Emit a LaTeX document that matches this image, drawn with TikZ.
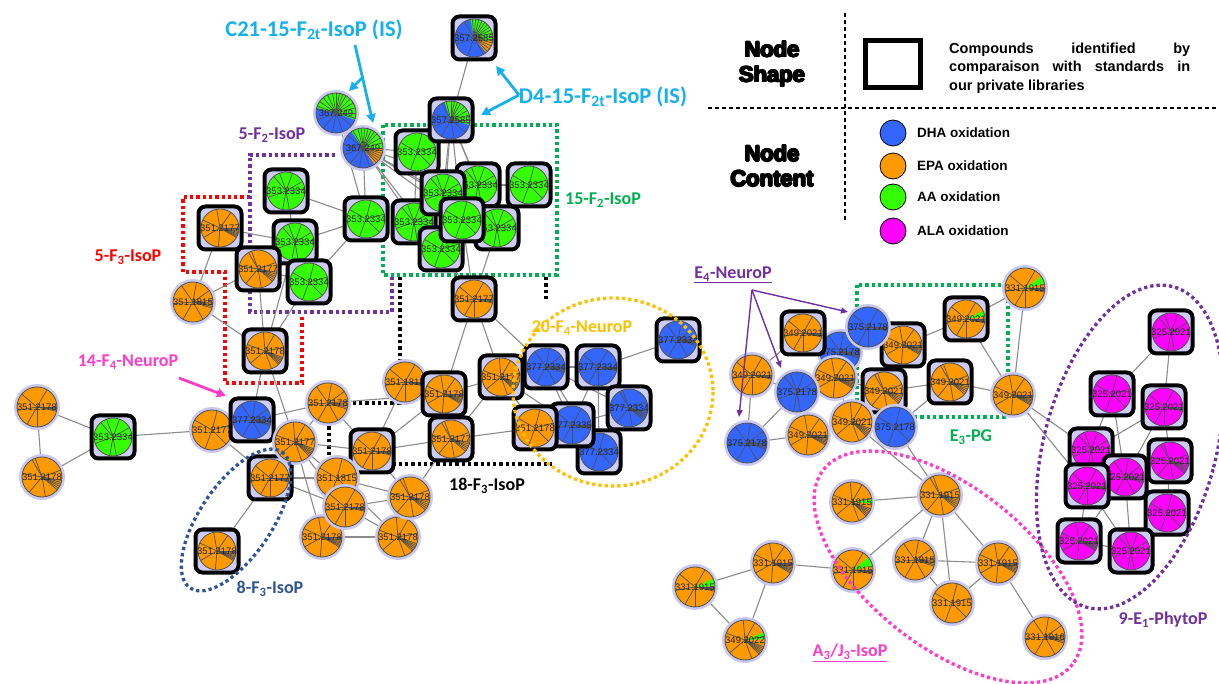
\documentclass[tikz,border=0pt]{standalone}
\usepackage{fontspec}
\setmainfont{Liberation Sans}
\newfontfamily\calib{Carlito}
\usetikzlibrary{arrows.meta,calc}
\definecolor{dha}{HTML}{3366FF}
\definecolor{epa}{HTML}{FF9900}
\definecolor{aa}{HTML}{33FF00}
\definecolor{ala}{HTML}{FF00FF}
\definecolor{boxfill}{HTML}{CCCCF5}
\definecolor{halo}{HTML}{C8C8F0}
\definecolor{cyanl}{HTML}{16B0EE}
\definecolor{purp}{HTML}{7030A0}
\definecolor{grn}{HTML}{00B050}
\definecolor{pinkl}{HTML}{FF3CC8}
\definecolor{gold}{HTML}{FFC000}
\definecolor{dblue}{HTML}{2F5597}
\definecolor{edgec}{HTML}{8C8C8C}
\definecolor{slicec}{HTML}{505050}
\pgfdeclarelayer{bg}\pgfdeclarelayer{edges}
\pgfsetlayers{bg,edges,main}
\tikzset{
 piec/.style={circle, inner sep=0pt, outer sep=0pt, minimum size=40pt},
 pieb/.style={circle, inner sep=0pt, outer sep=0pt, minimum size=38pt},
 boxn/.style={draw=black, line width=4pt, fill=boxfill, rounded corners=7pt, minimum size=43pt, inner sep=0pt},
 slice/.style={draw=slicec, line width=0.7pt},
 rim/.style={draw=slicec, line width=0.8pt},
 lbl/.style={font=\fontsize{9.5}{10}\selectfont, text=black!85, inner sep=0pt},
 lnk/.style={draw=edgec, line width=1.1pt},
 reg/.style={line width=3.3pt, dash pattern=on 3.3pt off 3pt},
 ann/.style={font=\calib\bfseries\fontsize{18}{20}\selectfont, inner sep=0pt},
 annbig/.style={font=\calib\bfseries\fontsize{22.5}{24}\selectfont, inner sep=0pt},
 carr/.style={draw=cyanl, line width=2.8pt, -{Triangle[length=9pt,width=9pt]}},
 parr/.style={draw=purp, line width=1.4pt, -{Triangle[length=7pt,width=6pt]}},
 marr/.style={draw=pinkl, line width=2.8pt, -{Triangle[length=9pt,width=9pt]}},
 legdash/.style={line width=1.3pt, dash pattern=on 4pt off 3pt},
 legtxt/.style={font=\bfseries\fontsize{13.5}{16}\selectfont, anchor=west, inner sep=0pt},
 legdot/.style={circle, draw=black, line width=0.8pt, minimum size=26pt, inner sep=0pt},
 heavyt/.style={font=\bfseries\fontsize{22}{25}\selectfont, align=center, inner sep=0pt}
}
\def\sA{-100,-55,95,150,205,0,5,10,14,18,22,26,30}
\def\sB{-80,-35,60,120,175,235,-5,3,8,13,18}
\def\sC{-120,-20,80,130,190,250,10,16,22,28,34,40}
\def\sD{-75,-15,45,110,210}
\def\sE{-95,-60,-10,70,140,200,20,25,30,35,40,45}
\def\sF{-110,-70,-30,-5,80,100,160,230}
\def\sG{-60,0,3,6,9,12,90,120,170,220}
\newcommand\wdg[5]{\fill[#4] (#1.center) -- +(#2:#5) arc[start angle=#2, end angle=#3, radius=#5] -- cycle;}
\newcommand\cn[7]{%
  \fill[halo] (#2,#3) circle (23);
  \node[piec, fill=#4] (#1) at (#2,#3) {};
  #7
  \edef\myslices{#6}\foreach \a in \myslices {\draw[slice] (#1.center) -- +(\a:20);}
  \draw[rim] (#1.center) circle (20);
  \node[lbl] at (#1.center) {#5};
}
\newcommand\bn[7]{%
  \node[boxn] (#1box) at (#2,#3) {};
  \node[pieb, fill=#4] (#1) at (#2,#3) {};
  #7
  \edef\myslices{#6}\foreach \a in \myslices {\draw[slice] (#1.center) -- +(\a:19);}
  \draw[rim] (#1.center) circle (19);
  \node[lbl] at (#1.center) {#5};
}
\begin{document}
\begin{tikzpicture}[x=1pt,y=-1pt]
\useasboundingbox (0,0) rectangle (1219,684);
\begin{pgfonlayer}{bg}\fill[white] (0,0) rectangle (1219,684);\end{pgfonlayer}
% ---------------- top / AA cluster
\cn{N3}{336}{113}{dha}{367.249}{-160,-145,-130,-115,-100,-90,-80,-70,-60,-45,-30,-15,0,15,40,70,100,130,160,190}{\wdg{N3}{-165}{20}{aa}{20}}
\cn{N4}{363}{148}{dha}{367.249}{-120,-105,-95,-85,-75,-65,-55,-45,-30,-15,0,8,16,24,32,40,48,70,100,130,160,190,220}{\wdg{N4}{-125}{0}{aa}{20}\wdg{N4}{0}{55}{epa}{20}}
\bn{G10}{286}{191}{aa}{353.2334}{\sF}{}
\bn{G9}{366}{219}{aa}{353.2334}{\sD}{}
\bn{G3}{478}{185}{aa}{353.2334}{\sF}{}
\bn{G4}{529}{185}{aa}{353.2334}{\sD}{}
\bn{G5}{414}{222}{aa}{353.2334}{\sF}{}
\bn{G8}{441}{249}{aa}{353.2334}{\sD}{}
\bn{G7}{497}{228}{aa}{353.2334}{\sF}{}
\bn{G1}{417}{152}{aa}{353.2334}{\sD}{}
\bn{G2}{443}{193}{aa}{353.2334}{\sF}{}
\bn{G6}{462}{220}{aa}{353.2334}{\sD}{}
\bn{N2}{451}{120}{dha}{357.2585}{-105,-90,-80,-70,-60,-45,-30,-15,0,10,40,80,120,160,200,240}{\wdg{N2}{-110}{15}{aa}{19}}
\bn{N1}{474}{38}{dha}{357.2585}{-95,-85,-75,-65,-55,-45,-35,-25,-15,-5,5,15,25,35,45,60,110,160,200,240}{\wdg{N1}{-100}{10}{aa}{19}\wdg{N1}{10}{50}{epa}{19}}
\bn{G11}{295}{242}{aa}{353.2334}{\sF}{}
\bn{G12}{309}{282}{aa}{353.2334}{\sD}{}
\bn{O1}{220}{228}{epa}{351.2177}{\sA}{}
\bn{O2}{258}{269}{epa}{351.2177}{\sC}{}
\cn{O3}{193}{302}{epa}{351.1815}{\sB}{}
\bn{O4}{265}{351}{epa}{351.2178}{\sE}{}
\bn{O5}{474}{299}{epa}{351.2177}{\sG}{}
% ---------------- left
\cn{L1}{37}{407}{epa}{351.2178}{\sG}{}
\cn{L2}{42}{477}{epa}{351.2178}{\sC}{}
\bn{L3}{113}{437}{aa}{353.2334}{\sF}{}
\cn{L4}{212}{430}{epa}{351.2177}{\sD}{}
\bn{L5}{252}{420}{dha}{377.2334}{\sB}{}
\bn{L7}{217}{551}{epa}{351.2178}{\sA}{}
\bn{L6}{270}{478}{epa}{351.2177}{\sG}{}
\cn{C5}{295}{442}{epa}{351.2177}{\sE}{}
% ---------------- centre
\cn{C2}{405}{382}{epa}{351.1815}{\sG}{}
\bn{C3}{444}{394}{epa}{351.2178}{\sA}{}
\bn{C4}{451}{439}{epa}{351.2177}{\sC}{}
\cn{C1}{328}{403}{epa}{351.2178}{\sB}{}
\bn{C6}{372}{451}{epa}{351.2178}{\sG}{}
\cn{C7}{337}{478}{epa}{351.1815}{\sD}{}
\cn{C10}{322}{537}{epa}{351.2178}{\sA}{}
\cn{C8}{345}{507}{epa}{351.2178}{\sG}{}
\cn{C11}{398}{537}{epa}{351.2178}{\sE}{}
\cn{C9}{410}{497}{epa}{351.2178}{\sC}{}
% ---------------- 20-F4-NeuroP
\bn{P1}{501}{377}{epa}{351.2177}{\sE}{}
\bn{B1}{546}{367}{dha}{377.2334}{\sB}{}
\bn{B2}{598}{367}{dha}{377.2334}{\sG}{}
\bn{B3}{678}{340}{dha}{377.2334}{\sB}{}
\bn{B4}{629}{408}{dha}{377.2334}{\sC}{}
\bn{B6}{599}{452}{dha}{377.2334}{\sD}{}
\bn{B5}{572}{425}{dha}{377.2335}{\sG}{}
\bn{P2}{535}{428}{epa}{351.2178}{\sD}{}
% ---------------- E-series cluster
\cn{R2}{840}{352}{dha}{375.2178}{\sB}{}
\bn{R1}{803}{333}{epa}{349.2021}{\sG}{}
\bn{R4}{903}{345}{epa}{349.2021}{\sA}{}
\cn{R3}{868}{327}{dha}{375.2178}{\sG}{}
\bn{R8}{884}{391}{epa}{349.2021}{\sC}{}
\cn{R7}{835}{378}{epa}{349.2021}{\sA}{}
\cn{R5}{752}{375}{epa}{349.2021}{\sG}{}
\cn{R6}{797}{392}{dha}{375.2178}{\sF}{}
\cn{R9}{747}{443}{dha}{375.2178}{\sB}{}
\cn{R10}{808}{435}{epa}{349.2021}{\sA}{}
\cn{R11}{852}{422}{epa}{349.2021}{\sE}{}
\cn{R12}{895}{427}{dha}{375.2178}{\sD}{}
\bn{R13}{966}{319}{epa}{349.2021}{\sG}{\wdg{R13}{-25}{-8}{aa}{19}}
\bn{R14}{950}{382}{epa}{349.2021}{\sC}{}
\cn{R15}{1013}{395}{epa}{349.2021}{\sA}{}
\cn{R16}{1025}{288}{epa}{331.1915}{\sG}{\wdg{R16}{-35}{-12}{aa}{20}}
% ---------------- A3/J3 cluster
\cn{A1}{940}{495}{epa}{331.1915}{\sC}{}
\cn{A2}{852}{502}{epa}{331.1915}{\sE}{\wdg{A2}{-8}{4}{aa}{20}}
\cn{A3}{853}{570}{epa}{331.1915}{\sG}{\wdg{A3}{-40}{-12}{aa}{20}}
\cn{A4}{915}{560}{epa}{331.1915}{\sB}{}
\cn{A5}{998}{563}{epa}{331.1915}{\sA}{}
\cn{A6}{952}{603}{epa}{331.1915}{\sD}{}
\cn{A7}{1045}{637}{epa}{331.1916}{\sB}{}
\cn{A8}{773}{563}{epa}{331.1915}{\sA}{}
\cn{A9}{695}{587}{epa}{331.1915}{\sG}{\wdg{A9}{-25}{-2}{aa}{20}}
\cn{A10}{745}{640}{epa}{349.2022}{\sE}{\wdg{A10}{-22}{-2}{aa}{20}}
% ---------------- ALA cluster
\bn{M1}{1171}{332}{ala}{325.2021}{\sF}{}
\bn{M2}{1112}{394}{ala}{325.2021}{\sD}{}
\bn{M3}{1164}{407}{ala}{325.2021}{\sG}{}
\bn{M4}{1091}{450}{ala}{325.2021}{\sF}{}
\bn{M6}{1125}{477}{ala}{325.2021}{\sB}{}
\bn{M5}{1170}{461}{ala}{325.2021}{\sC}{}
\bn{M8}{1167}{513}{ala}{325.2021}{\sD}{}
\bn{M7}{1087}{486}{ala}{325.2021}{\sG}{}
\bn{M9}{1079}{541}{ala}{325.2021}{\sA}{}
\bn{M10}{1131}{551}{ala}{325.2021}{\sF}{}
% ---------------- regions behind and edges
\begin{pgfonlayer}{edges}
\draw[reg, red] (250,197) -- (183,197) -- (183,272) -- (225,272) -- (225,383) -- (302,383) -- (302,317);
\draw[reg, purp] (335,155) -- (250,155) -- (250,312) -- (392,312) -- (392,277);
\draw[reg, grn] (383,125) rectangle (557,275);
\draw[reg, black] (400,277) -- (400,403) -- (329,403) -- (329,464) -- (552,464);
\draw[reg, black] (546,277) -- (546,300);
\draw[reg, grn] (857,285) rectangle (1008,417);
\foreach \u/\v in {N1/N2, N2/G2, N2/G3, N2/G6, N2/G8, N2/G7, N4/G1, N4/G2, N4/G5, N4/G9, N4/G6, N4/G8, N4/G3, N4/G7, N3/G9, G1/G2, G1/G5, G2/G5, G2/G3, G3/G4, G3/G6, G6/G7, G5/G8, G6/G8, G7/G8, G2/G6, G4/G7, G9/G10, G9/G11, G9/G12, G10/G11, G11/O1, G11/O2, G12/O2, G8/O5, G7/O5, G6/O5, O1/O2, O1/O3, O2/O3, O2/O4, G12/O4, G11/O4, O3/O4, O4/L5, O4/C5, L1/L2, L1/L3, L2/L3, L3/L4, L4/L5, L4/L6, L5/C5, L5/C1, L6/L7, L6/C7, L6/C8, L6/C5, C1/C5, C1/C6, C1/C3, C2/C3, C2/C6, C3/O5, O5/P1, O5/B1, C3/P1, C4/P1, C4/C6, C4/C9, C4/P2, C5/C6, C5/C7, C5/C10, C6/C9, C6/C7, C7/C8, C7/C9, C8/C9, C8/C10, C8/C11, C9/C11, C10/C11, C7/C11, C5/C8, C3/C6, P1/B1, P1/P2, B1/B2, B1/B4, B1/B5, B1/B6, B2/B3, B2/B4, B2/B5, B2/B6, B4/B6, B5/B6, B4/B5, P2/B5, P1/B5, R5/R9, R5/R6, R6/R9, R6/R10, R9/R10, R1/R2, R1/R7, R2/R3, R2/R7, R3/R4, R3/R7, R4/R13, R4/R8, R7/R8, R7/R11, R8/R11, R8/R14, R8/R12, R11/R12, R12/R14, R13/R16, R13/R15, R14/R15, R15/R16, R10/R11, R12/A1, R11/A1, R15/M4, R15/M7, R2/R6, R6/R7, R5/R1, A1/A2, A1/A3, A1/A4, A1/A5, A1/A6, A4/A5, A4/A6, A5/A6, A5/A7, A3/A8, A8/A9, A8/A10, A9/A10, M1/M2, M1/M3, M2/M4, M2/M6, M3/M4, M3/M6, M3/M5, M4/M7, M4/M6, M5/M6, M6/M7, M6/M8, M7/M9, M7/M10, M6/M10, M8/M10, M9/M10, M6/M9, M5/M8}
  \draw[lnk] (\u.center) -- (\v.center);
\end{pgfonlayer}
% ---------------- regions on top
\draw[reg, gold] (613,392) ellipse [x radius=100, y radius=94];
\draw[reg, dblue, rotate around={56:(236,520)}] (236,520) ellipse [x radius=82, y radius=36];
\draw[reg, pinkl, rotate around={-38:(948,567)}] (948,567) ellipse [x radius=158, y radius=80];
\draw[reg, purp, rotate around={-15:(1130,447)}] (1130,447) ellipse [x radius=86, y radius=166];
% ---------------- annotations
\node[annbig, text=cyanl] (tC21) at (314,30) {C21-15-F\textsubscript{2t}-IsoP (IS)};
\node[annbig, text=cyanl] (tD4) at (603,97) {D4-15-F\textsubscript{2t}-IsoP (IS)};
\coordinate (c21s) at (355,45); \coordinate (c21j) at (362,78);
\coordinate (c21t1) at (373,123); \coordinate (c21t2) at (349,91);
\draw[carr] (c21s) -- (c21t1);
\draw[carr] (c21j) -- (c21t2);
\coordinate (d4s) at (519,95); \coordinate (d4t1) at (496,66); \coordinate (d4t2) at (481,115);
\draw[carr] (d4s) -- (d4t1);
\draw[carr] (d4s) -- (d4t2);
\node[ann, text=purp] (t5f2) at (272,135) {5-F\textsubscript{2}-IsoP};
\node[ann, text=grn] (t15f2) at (603,200) {15-F\textsubscript{2}-IsoP};
\node[ann, text=red] (t5f3) at (128,257) {5-F\textsubscript{3}-IsoP};
\node[ann, text=pinkl] (t14) at (128,362) {14-F\textsubscript{4}-NeuroP};
\coordinate (m14s) at (179,378); \coordinate (m14t) at (226,396);
\draw[marr] (m14s) -- (m14t);
\node[ann, text=gold] (t20) at (582,328) {20-F\textsubscript{4}-NeuroP};
\node[ann, text=black] (t18) at (487,486) {18-F\textsubscript{3}-IsoP};
\node[ann, text=dblue] (t8) at (270,589) {8-F\textsubscript{3}-IsoP};
\node[ann, text=purp] (tE4) at (733,275) {\underline{E\textsubscript{4}-NeuroP}};
\coordinate (e4) at (752,290);
\coordinate (e4t1) at (739,417); \coordinate (e4t2) at (781,368); \coordinate (e4t3) at (848,312);
\draw[parr] (e4) -- (e4t1);
\draw[parr] (e4) -- (e4t2);
\draw[parr] (e4) -- (e4t3);
\node[ann, text=grn] (tE3) at (971,437) {E\textsubscript{3}-PG};
\node[ann, text=pinkl] (tA3) at (850,653) {\underline{A\textsubscript{3}/J\textsubscript{3}-IsoP}};
\node[ann, text=purp] (t9) at (1163,620) {9-E\textsubscript{1}-PhytoP};
% ---------------- legend
\draw[legdash] (845,13) -- (845,223);
\draw[legdash] (708,108) -- (1219,108);
\foreach \dx/\dy [count=\i] in {0/0, 0.9/0, -0.9/0, 0/0.8, 0/-0.8, 0.6/0.6, -0.6/-0.6, 0.6/-0.6, -0.6/0.6} {
  \node[heavyt] (lshape\i) at ($(772,64)+(\dx,\dy)$) {Node\\Shape};
  \node[heavyt] (lcont\i) at ($(772,166)+(\dx,\dy)$) {Node\\Content};
}
\node[draw=black, line width=5pt, minimum width=55pt, minimum height=47pt, inner sep=0pt] (lsq) at (893,64) {};
\node[anchor=west, align=left, inner sep=0pt, font=\bfseries\fontsize{14.5}{18.5}\selectfont] (ltxt) at (949,68) {\makebox[241pt][s]{Compounds identified by}\\\makebox[241pt][s]{comparaison with standards in}\\our private libraries};
\node[legdot, fill=dha] (ld1) at (893,133) {};
\node[legdot, fill=epa] (ld2) at (893,166) {};
\node[legdot, fill=aa] (ld3) at (893,197) {};
\node[legdot, fill=ala] (ld4) at (893,231) {};
\node[legtxt] (lt1) at (917,133) {DHA oxidation};
\node[legtxt] (lt2) at (917,166) {EPA oxidation};
\node[legtxt] (lt3) at (917,197) {AA oxidation};
\node[legtxt] (lt4) at (917,231) {ALA oxidation};
\end{tikzpicture}
\end{document}
